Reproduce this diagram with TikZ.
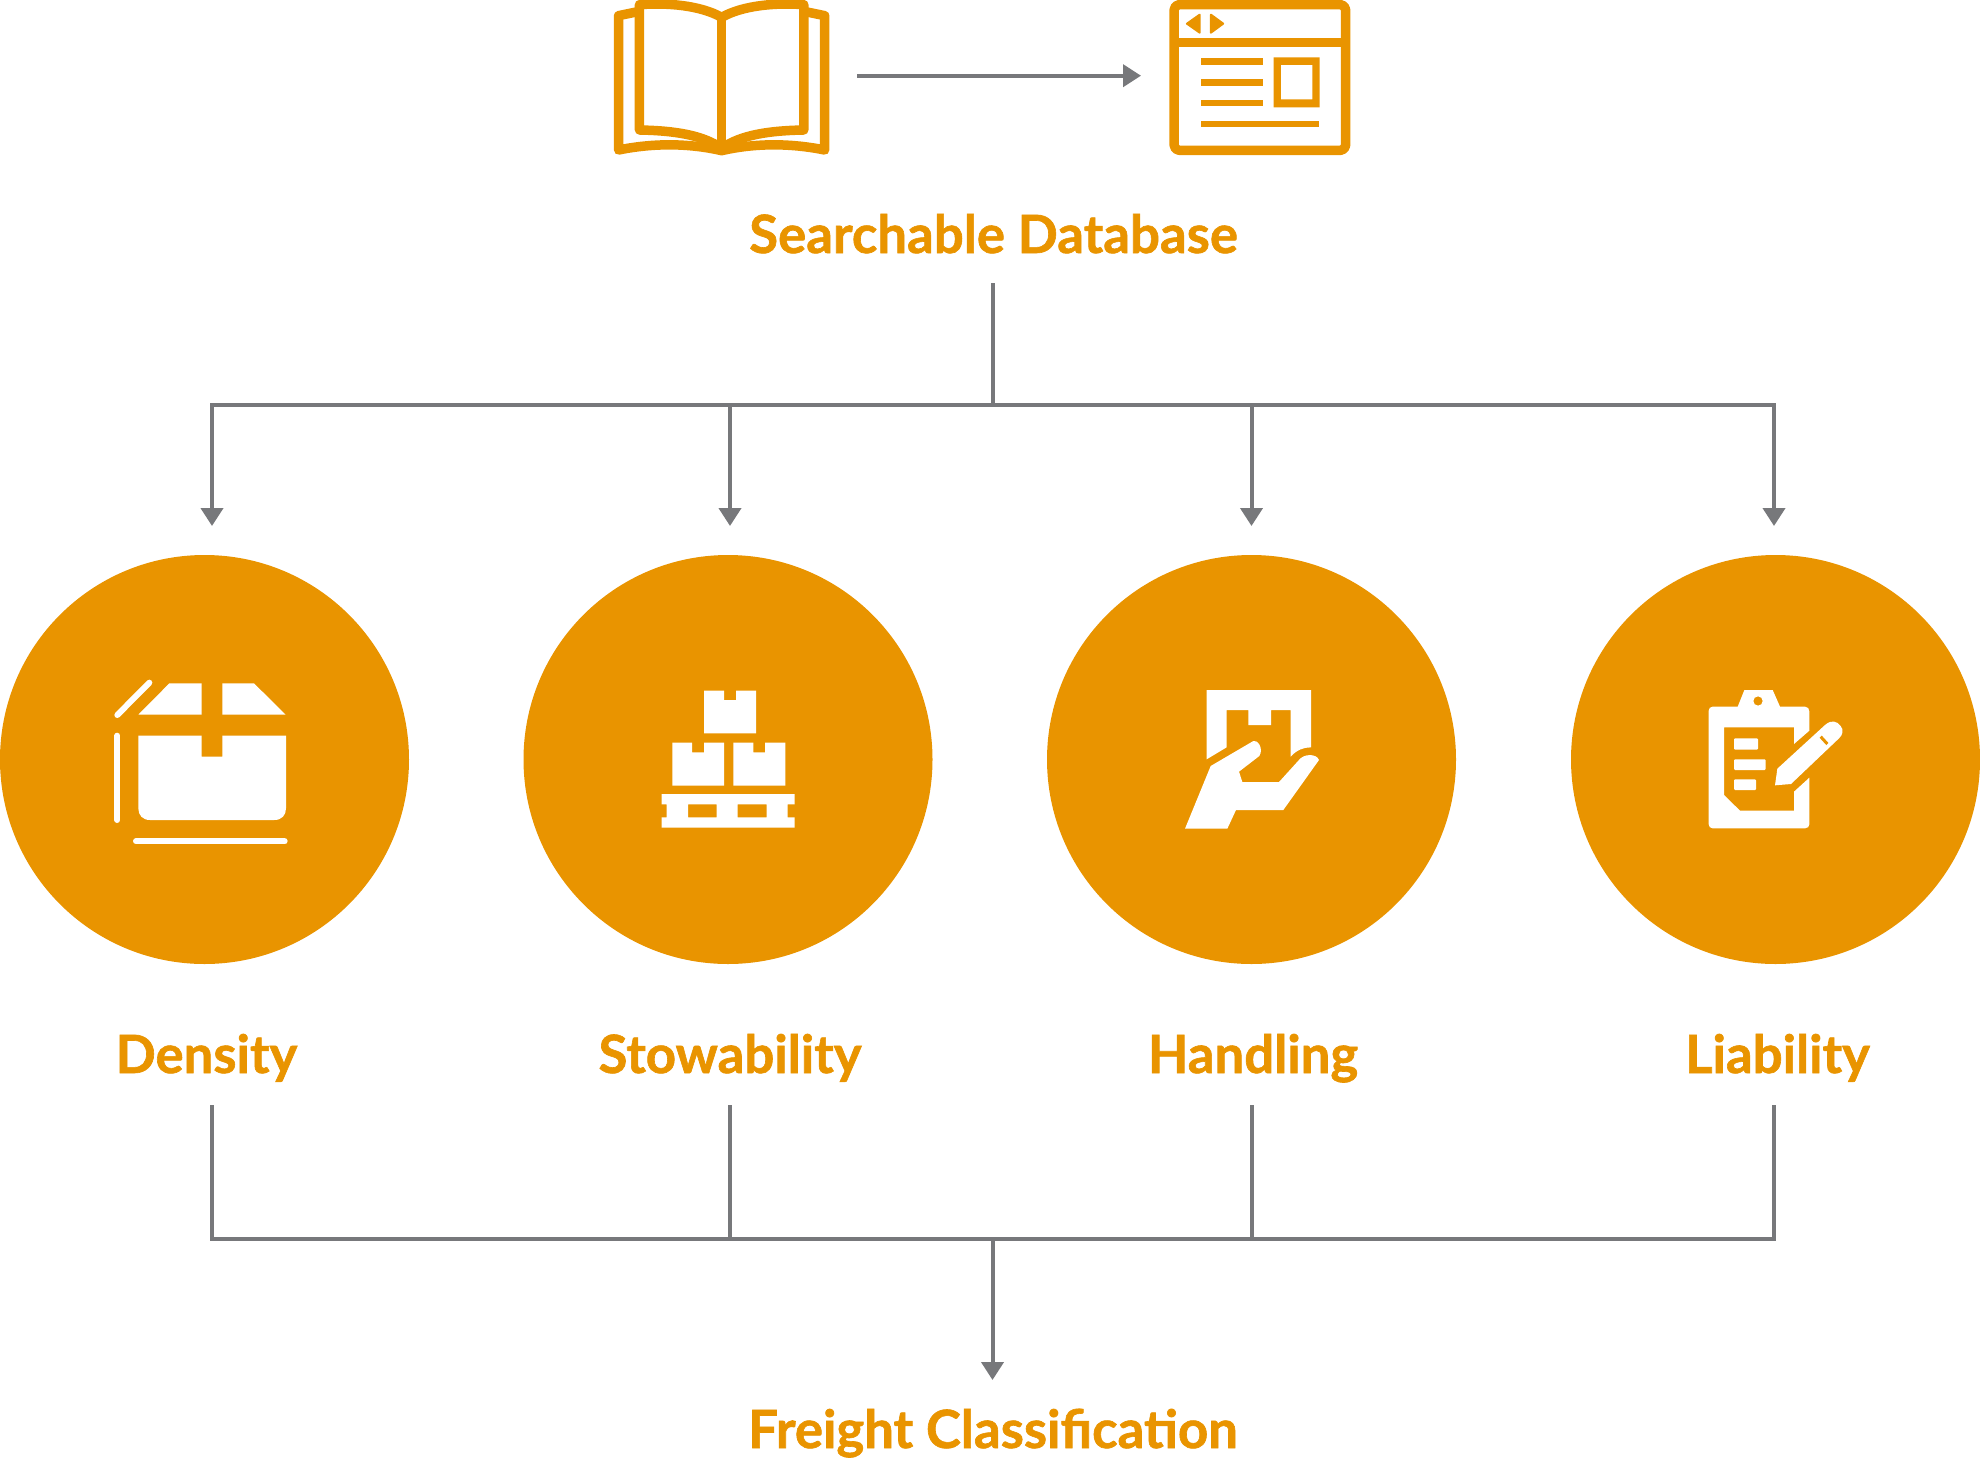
\documentclass[tikz,border=0pt]{standalone}
\usepackage{fontspec}
\setmainfont{Lato}[BoldFeatures={FakeBold=1.2}]
\usetikzlibrary{arrows.meta}
\definecolor{fo}{HTML}{E99400}
\definecolor{fg}{HTML}{77787B}
\tikzset{
  conn/.style={draw=fg,line width=4pt,line join=miter},
  tip/.style={-{Triangle[length=18pt,width=22pt]}},
  tips/.style={{Triangle[length=18pt,width=22pt]}-{Triangle[length=18pt,width=22pt]}},
  disc/.style={circle,fill=fo,minimum size=409pt,inner sep=0pt,outer sep=0pt},
  lab/.style={anchor=base,text=fo,inner sep=0pt,font=\fontsize{52.7}{60}\selectfont\bfseries},
  ol/.style={draw=fo,line width=9.5pt,line join=round,fill=none},
  wf/.style={fill=white,draw=none},
  ws/.style={draw=white,line width=6pt,line cap=round},
  of/.style={fill=fo,draw=none},
  zoomtop/.style={x=0.5102pt,y=-0.33333pt},
  icon/.style={x=0.33333pt,y=-0.33333pt}
}
\begin{document}
\begin{tikzpicture}[x=1pt,y=-1pt]
\useasboundingbox (0,0) rectangle (1980,1458);
% discs
\node[disc] (c1) at (204.5,759.5) {};
\node[disc] (c2) at (728,759.5) {};
\node[disc] (c3) at (1251.5,759.5) {};
\node[disc] (c4) at (1775.5,759.5) {};
% labels
\node[lab] (lsd) at (993.5,253) {Searchable Database};
\node[lab] (l1) at (206.5,1073) {Density};
\node[lab] (l2) at (730,1073) {Stowability};
\node[lab] (l3) at (1253,1073) {Handling};
\node[lab] (l4) at (1777.5,1073) {Liability};
\node[lab] (lfc) at (993,1448) {Freight Classification};
% connectors
\coordinate (a0) at (857,75.7); \coordinate (a1) at (1141,75.7);
\draw[conn,tip] (a0) -- (a1);
\coordinate (t0) at (992.5,283); \coordinate (tj) at (992.5,404.5);
\coordinate (h1) at (212,404.5); \coordinate (h2) at (730,404.5);
\coordinate (h3) at (1251.5,404.5); \coordinate (h4) at (1774,404.5);
\coordinate (d1) at (212,526); \coordinate (d2) at (730,526);
\coordinate (d3) at (1251.5,526); \coordinate (d4) at (1774,526);
\draw[conn] (t0) -- (tj);
\draw[conn,tips] (d1) -- (h1) -- (h4) -- (d4);
\draw[conn,tip] (h2) -- (d2);
\draw[conn,tip] (h3) -- (d3);
\coordinate (b1) at (212,1105); \coordinate (b2) at (730,1105);
\coordinate (b3) at (1251.5,1105); \coordinate (b4) at (1774,1105);
\coordinate (j1) at (212,1239); \coordinate (j2) at (730,1239);
\coordinate (j3) at (1251.5,1239); \coordinate (j4) at (1774,1239);
\coordinate (jc) at (992.5,1239); \coordinate (e) at (992.5,1380);
\draw[conn] (b1) -- (j1) -- (j4) -- (b4);
\draw[conn] (b2) -- (j2);
\draw[conn] (b3) -- (j3);
\draw[conn,tip] (jc) -- (e);
% book icon
\begin{scope}[shift={(590,0)},zoomtop]
 \draw[ol] (97,14) .. controls (150,8) and (215,15) .. (258,52) .. controls (301,15) and (366,8) .. (419,14)
   -- (419,390) .. controls (350,392) and (295,405) .. (258,445) .. controls (221,405) and (166,392) .. (97,390) -- cycle;
 \draw[ol] (258,52) -- (258,445);
 \draw[ol] (97,34) -- (56,47) -- (56,450) .. controls (120,430) and (190,428) .. (258,452)
   .. controls (326,428) and (396,430) .. (460,450) -- (460,47) -- (419,34);
\end{scope}
% window icon
\begin{scope}[shift={(590,0)},zoomtop]
 \draw[ol,rounded corners=5pt] (1145,14) rectangle (1481,451);
 \draw[ol] (1145,128) -- (1481,128);
 \fill[fo,draw=fo,line width=2pt,line join=round] (1195,44) -- (1195,98) -- (1170,71) -- cycle;
 \fill[fo,draw=fo,line width=2pt,line join=round] (1217,44) -- (1217,98) -- (1241,71) -- cycle;
 \fill[fo] (1197,174) rectangle (1320,194);
 \fill[fo] (1197,237) rectangle (1320,257);
 \fill[fo] (1197,299) rectangle (1320,319);
 \fill[fo] (1197,362) rectangle (1428,382);
 \fill[fo,even odd rule] (1340,172) rectangle (1430,322) (1354,195) rectangle (1416,298);
\end{scope}
% density icon
\begin{scope}[shift={(90,660)},icon]
 \draw[ws] (82,165) -- (178,68);
 \draw[ws] (82,227) -- (82,480);
 \draw[ws] (138,544) -- (584,544);
 \fill[wf] (145,164) -- (238,70) -- (335,70) -- (335,164) -- cycle;
 \fill[wf] (397,70) -- (492,70) -- (587,164) -- (397,164) -- cycle;
 \fill[wf] (145,227) -- (335,227) -- (335,290) -- (397,290) -- (397,227) -- (588,227) -- (588,445)
   .. controls (588,466) and (575,480) .. (553,480) -- (180,480) .. controls (158,480) and (145,466) .. (145,445) -- cycle;
\end{scope}
% stowability icon
\begin{scope}[shift={(640,670)},icon]
 \fill[wf] (192,62) -- (252,62) -- (252,90) -- (288,90) -- (288,62) -- (348,62) -- (348,190) -- (192,190) -- cycle;
 \fill[wf] (97,218) -- (156,218) -- (156,247) -- (192,247) -- (192,218) -- (252,218) -- (252,347) -- (97,347) -- cycle;
 \fill[wf] (280,218) -- (340,218) -- (340,247) -- (375,247) -- (375,218) -- (436,218) -- (436,347) -- (280,347) -- cycle;
 \fill[wf,even odd rule] (65,372) -- (464,372) -- (464,403) -- (443,403) -- (443,442) -- (464,442) -- (464,473)
   -- (65,473) -- (65,442) -- (80,442) -- (80,403) -- (65,403) -- cycle
   (144,403) rectangle (230,442) (293,403) rectangle (380,442);
\end{scope}
% handling icon
\begin{scope}[shift={(1170,670)},icon]
 \fill[wf] (110,60) -- (423,60) -- (423,232) .. controls (400,232) and (380,240) .. (362,260) -- (362,120) -- (303,120)
   -- (303,165) -- (235,165) -- (235,120) -- (170,120) -- (170,232) -- (110,268) -- cycle;
 \fill[wf] (122,288) -- (250,213) .. controls (262,208) and (282,235) .. (268,258) -- (207,305) -- (217,336) -- (327,336)
   -- (385,272) .. controls (400,250) and (440,250) .. (447,270) -- (340,420) -- (198,420) -- (172,476) -- (45,476) -- cycle;
\end{scope}
% liability icon
\begin{scope}[shift={(1690,670)},icon]
 \fill[wf,even odd rule] (68,110) -- (143,110) -- (163,60) -- (248,60) -- (270,110) -- (345,110)
   .. controls (353,110) and (358,116) .. (358,124) -- (358,182) -- (312,222) -- (312,172) -- (102,172) -- (102,375)
   -- (150,422) -- (312,422) -- (312,365) -- (358,323) -- (358,463) .. controls (358,470) and (353,475) .. (345,475)
   -- (68,475) .. controls (61,475) and (56,470) .. (56,463) -- (56,122) .. controls (56,115) and (61,110) .. (68,110) -- cycle
   (218,93) arc[start angle=0,end angle=360,radius=14];
 \fill[wf,rounded corners=1pt] (132,205) rectangle (204,239);
 \fill[wf,rounded corners=1pt] (132,268) rectangle (227,300);
 \fill[wf,rounded corners=1pt] (132,328) rectangle (198,360);
 \fill[wf] (262,296) -- (405,165) .. controls (425,148) and (440,153) .. (452,168) .. controls (462,180) and (458,195) .. (447,205)
   -- (303,342) -- (255,346) -- cycle;
 \draw[fo,line width=3pt] (392,200) -- (412,222);
\end{scope}
\end{tikzpicture}
\end{document}
